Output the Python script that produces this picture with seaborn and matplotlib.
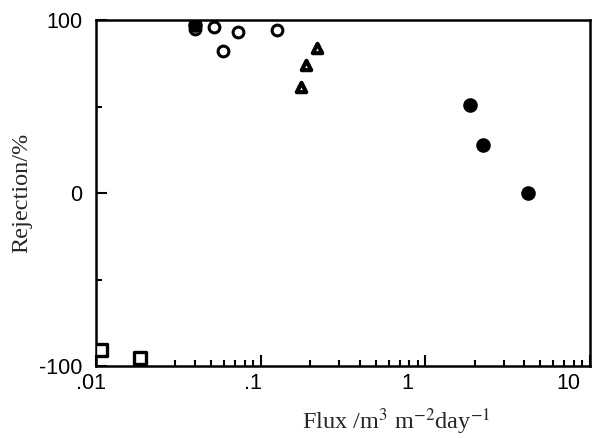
import matplotlib
matplotlib.use("Agg")
import matplotlib.pyplot as plt
import matplotlib.transforms as mtransforms
import seaborn as sns
import pandas as pd
from matplotlib.ticker import FixedLocator, NullFormatter, LogLocator

sns.set_theme(style="ticks")
plt.rcParams['font.family'] = ['Liberation Sans', 'DejaVu Sans']
plt.rcParams['mathtext.fontset'] = 'stix'

# data
sq_flux = [0.0107, 0.0185]
sq_rej = [-91, -95.5]
oc_flux = [0.040, 0.0524, 0.0594, 0.0724, 0.125]
oc_rej = [95, 96, 82, 93, 94]
tri_flux = [0.175, 0.188, 0.221]
tri_rej = [61, 74, 84]
fc_flux = [0.040, 1.88, 2.23, 4.19]
fc_rej = [97, 51, 28, 0]

xticks = [0.01, 0.1, 1, 10]
xticklabels = [".01", ".1", "1", "10"]
yticks = [-100, 0, 100]
yticklabels = ["-100", "0", "100"]

fig = plt.figure(figsize=(6.06, 4.38), dpi=100)
ax = fig.add_axes([96/606, 72/438, 494/606, 346/438])

def draw(x, y, marker, size, filled, lw=2.2):
    df = pd.DataFrame({"x": x, "y": y})
    if filled:
        sns.scatterplot(data=df, x="x", y="y", ax=ax, marker=marker, s=size,
                        color="black", edgecolor="black", linewidth=1, zorder=3)
    else:
        sns.scatterplot(data=df, x="x", y="y", ax=ax, marker=marker, s=size,
                        facecolor="white", edgecolor="black", linewidth=lw, zorder=3)

draw(sq_flux, sq_rej, "s", 75, False, 2.4)
draw(oc_flux, oc_rej, "o", 60, False, 2.2)
draw(tri_flux, tri_rej, "^", 45, False, 3.0)
draw(fc_flux, fc_rej, "o", 90, True)

ax.set_xscale("log")
ax.set_xlim(0.01, 10)
ax.set_ylim(-100, 100)
ax.set_xticks(xticks)
ax.set_xticklabels(xticklabels)
ax.xaxis.set_minor_locator(LogLocator(base=10, subs=range(2, 10)))
ax.xaxis.set_minor_formatter(NullFormatter())
ax.set_yticks(yticks)
ax.set_yticklabels(yticklabels)
ax.yaxis.set_minor_locator(FixedLocator([-50, 50]))

for s in ax.spines.values():
    s.set_linewidth(1.8)
    s.set_color("black")
ax.tick_params(which="both", direction="in", top=False, right=False,
               labelsize=15.5, colors="black", width=1.5)
ax.tick_params(which="major", length=8)
ax.tick_params(which="minor", length=4)
ax.tick_params(axis="x", which="major", pad=5)
ax.tick_params(axis="y", which="major", pad=10)

shifts = [-5, -8, -18, -22]
for lab, dx in zip(ax.get_xticklabels(), shifts):
    lab.set_transform(lab.get_transform() +
                      mtransforms.ScaledTranslation(dx/100, 0, fig.dpi_scale_trans))

ax.set_xlabel(r"Flux /m$^3$ m$^{-2}$day$^{-1}$", family=["Liberation Serif"], fontsize=17.5)
ax.set_ylabel("Rejection/%", family=["Liberation Serif"], fontsize=17.5)
ax.xaxis.set_label_coords(0.607, -40/346)
ax.yaxis.set_label_coords(-64/494, 0.5)

fig.savefig("out.png", dpi=100)
